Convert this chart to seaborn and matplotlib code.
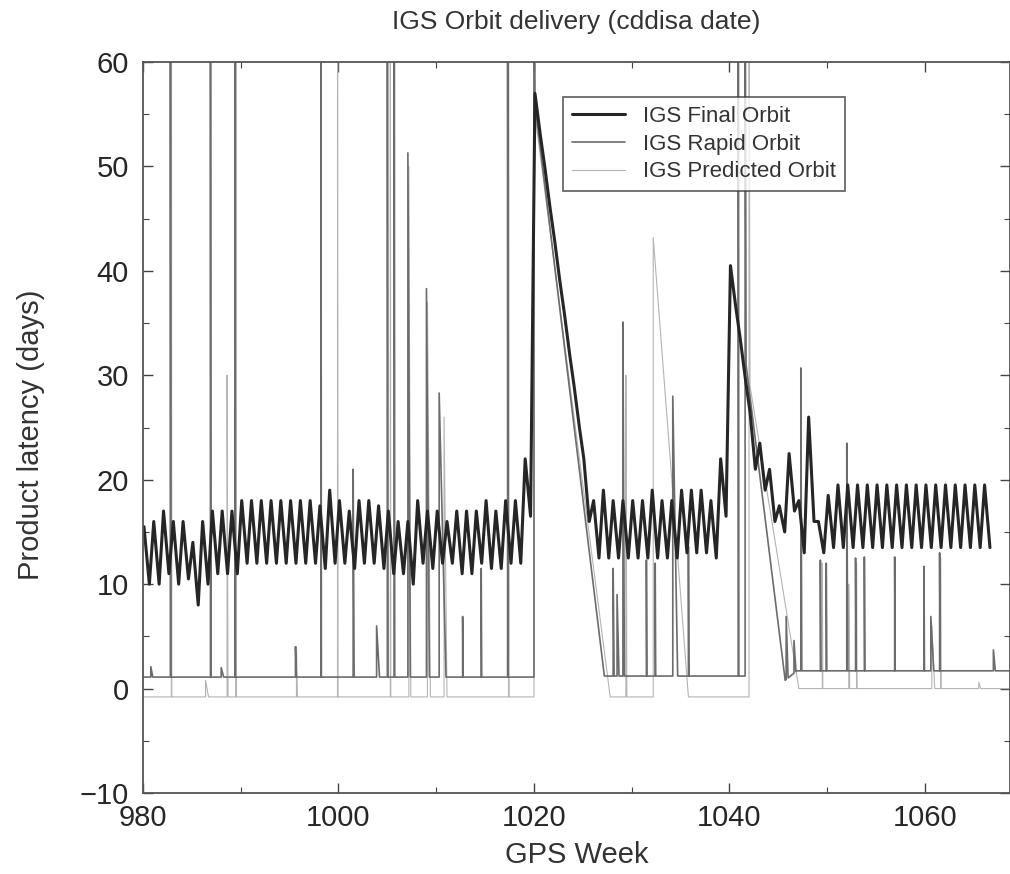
import matplotlib
matplotlib.use("Agg")
import matplotlib.pyplot as plt
from matplotlib.lines import Line2D
from matplotlib.ticker import MultipleLocator
import numpy as np
import pandas as pd
import seaborn as sns

# IGS Final orbit: one peak and one trough per GPS week (latency in days)
final_weeks = list(range(980, 1067))
final_peak = [15.5, 16, 17, 16, 16, 14, 16, 17, 17, 17,
              18, 18, 18, 18, 18, 18, 18, 18, 17.5, 19,
              18, 17, 18, 18, 17.5, 17, 16, 16, 18, 17,
              17, 16, 17, 17, 17, 18, 17, 18, 18, 22,
              57, 50, 43, 36, 29, 22, 18, 19, 18, 18,
              18, 18, 19, 18, 18, 19, 19, 19, 18, 22,
              40.5, 33.5, 26.5, 23.5, 21, 17.5, 22.5, 18, 26, 16,
              18.5, 19.5, 19.5, 19.5, 19.5, 19.5, 19.5, 19.5, 19.5, 19.5,
              19.5, 19.5, 19.5, 19.5, 19.5, 19.5, 19.5]
final_trough = [10, 10, 11, 10, 10.5, 8, 10, 11, 11, 11,
                12, 12, 12, 12, 12, 12, 12, 12, 11.5, 12,
                12, 11.5, 12, 12, 11.5, 11, 11, 10, 12, 11.5,
                12, 12, 11, 11, 12, 11.5, 11.5, 12, 12, 16.5,
                53, 46, 39, 32, 25, 16, 12.5, 12.5, 12.5, 12.5,
                12.5, 12.5, 12.5, 12.5, 12.5, 13, 13, 13, 12.5, 16.5,
                36.5, 29.5, 21, 19, 16, 15, 17, 13, 16, 13,
                13.5, 13.5, 13.5, 13.5, 13.5, 13.5, 13.5, 13.5, 13.5, 13.5,
                13.5, 13.5, 13.5, 13.5, 13.5, 13.5, 13.5]

# IGS Rapid orbit: baseline knots (outages run off the top) and spikes
rapid_knot_week = [980.0, 1020.0, 1020.0, 1020.1, 1027.2, 1041.6, 1041.6, 1041.7, 1045.7, 1046.9, 1069.5]
rapid_knot_days = [1.1, 1.1, 75, 56, 1.2, 1.2, 75, 31, 0.8, 1.7, 1.7]
rapid_spike_week = [980.8, 982.8, 986.9, 988.0, 989.4, 995.6, 998.2, 1001.5, 1003.9, 1005.0,
                    1005.7, 1007.1, 1009.0, 1010.3, 1012.7, 1014.6, 1017.3, 1028.1, 1028.5, 1029.1,
                    1031.5, 1032.4, 1034.2, 1035.8, 1040.9, 1045.8, 1046.6, 1047.3, 1049.3, 1049.9,
                    1052.0, 1052.9, 1053.8, 1056.9, 1059.9, 1060.6, 1061.5, 1067.0]
rapid_spike_days = [2.1, 80, 80, 2.0, 80, 4.0, 80, 21, 6.0, 80,
                    80, 51.3, 38.3, 28.3, 6.9, 11.5, 80, 11.5, 9.0, 35.1,
                    12.3, 12.0, 28.0, 13.6, 80, 6.9, 4.6, 30.7, 12.3, 12.0,
                    23.5, 12.5, 12.6, 12.6, 11.7, 6.9, 13.0, 3.7]
rapid_spike_decay = [0.2, 0.05, 0.05, 0.25, 0.05, 0.1, 0.05, 0.1, 0.3, 0.05,
                     0.05, 0.25, 0.3, 0.7, 0.05, 0.05, 0.05, 0.1, 0.2, 0.15,
                     0.05, 0.05, 0.5, 0.05, 0.05, 0.2, 0.2, 0.1, 0.05, 0.05,
                     0.1, 0.05, 0.05, 0.05, 0.05, 0.3, 0.05, 0.2]

# IGS Predicted orbit
pred_knot_week = [980.0, 1020.0, 1020.0, 1020.1, 1027.8, 1042.0, 1042.0, 1042.1, 1047.1, 1069.5]
pred_knot_days = [-0.8, -0.8, 75, 55, -0.8, -0.8, 75, 29, 0.0, 0.0]
pred_spike_week = [982.9, 986.4, 988.6, 989.5, 995.7, 999.9, 1005.3, 1007.2, 1009.1, 1010.8,
                   1017.4, 1029.4, 1032.2, 1049.5, 1052.2, 1053.0, 1060.7, 1061.6, 1065.5]
pred_spike_days = [80, 0.8, 30, 80, 4.0, 80, 80, 50, 37, 26,
                   80, 30, 43.2, 12, 10, 12, 6, 12.5, 0.6]
pred_spike_decay = [0.05, 0.3, 0.1, 0.05, 0.1, 0.05, 0.05, 0.2, 0.3, 0.3,
                    0.05, 0.1, 3.6, 0.05, 0.1, 0.05, 0.3, 0.05, 0.2]


def sawtooth(weeks, peaks, troughs):
    xs, ys = [], []
    for w, p, t in zip(weeks, peaks, troughs):
        xs += [w + 0.1, w + 0.65]
        ys += [p, t]
    return pd.DataFrame({"week": xs, "days": ys})


def spiky(knot_w, knot_d, spike_w, spike_d, spike_decay):
    pts = list(zip(knot_w, knot_d))
    for w, d, k in zip(spike_w, spike_d, spike_decay):
        pts.append((w, np.interp(w, knot_w, knot_d)))
        pts.append((w, d))
        pts.append((w + k, np.interp(w + k, knot_w, knot_d)))
    pts.sort(key=lambda p: p[0])  # stable: keeps vertical jumps in order
    return pd.DataFrame(pts, columns=["week", "days"])


df_final = sawtooth(final_weeks, final_peak, final_trough)
df_rapid = spiky(rapid_knot_week, rapid_knot_days, rapid_spike_week, rapid_spike_days, rapid_spike_decay)
df_pred = spiky(pred_knot_week, pred_knot_days, pred_spike_week, pred_spike_days, pred_spike_decay)

sns.set_style("ticks")
plt.rcParams["font.family"] = ["Liberation Sans", "DejaVu Sans"]

c_final, c_rapid, c_pred = "#262626", "#6c6c6c", "#b4b4b4"
lw_final, lw_rapid, lw_pred = 2.2, 1.2, 0.8

fig = plt.figure(figsize=(10.1, 8.74), dpi=100)
ax = fig.add_axes([143 / 1010, 81 / 874, 867 / 1010, 731 / 874])

sns.lineplot(data=df_pred, x="week", y="days", sort=False, estimator=None,
             color=c_pred, linewidth=lw_pred, ax=ax)
sns.lineplot(data=df_rapid, x="week", y="days", sort=False, estimator=None,
             color=c_rapid, linewidth=lw_rapid, ax=ax)
sns.lineplot(data=df_final, x="week", y="days", sort=False, estimator=None,
             color=c_final, linewidth=lw_final, ax=ax)

ax.set_xlim(980, 1068.7)
ax.set_ylim(-10, 60)
ax.xaxis.set_major_locator(MultipleLocator(20))
ax.xaxis.set_minor_locator(MultipleLocator(10))
ax.yaxis.set_major_locator(MultipleLocator(10))
ax.yaxis.set_minor_locator(MultipleLocator(5))
ax.tick_params(which="both", direction="in", top=True, right=True, color="#444444")
ax.tick_params(which="major", length=7, width=1.0, labelsize=21, pad=8)
ax.tick_params(which="minor", length=4, width=0.8)
ax.tick_params(axis="y", pad=10)
for sp in ax.spines.values():
    sp.set_color("#555555")
    sp.set_linewidth(1.3)

ax.set_xlabel("GPS Week", fontsize=21, color="#333333")
ax.set_ylabel("Product latency (days)", fontsize=21, color="#333333")
ax.xaxis.set_label_coords(0.5, -0.065)
ax.yaxis.set_label_coords(-0.113, 0.49)
fig.text(576 / 1010, 1 - 22 / 874, "IGS Orbit delivery (cddisa date)",
         ha="center", va="center", fontsize=19, color="#333333")

handles = [Line2D([], [], color=c_final, lw=lw_final),
           Line2D([], [], color=c_rapid, lw=lw_rapid),
           Line2D([], [], color=c_pred, lw=lw_pred)]
leg = ax.legend(handles, ["IGS Final Orbit", "IGS Rapid Orbit", "IGS Predicted Orbit"],
                loc="upper left", bbox_to_anchor=(0.484, 0.952), borderaxespad=0,
                fontsize=16, frameon=True, fancybox=False, edgecolor="#333333",
                handlelength=2.4, handletextpad=0.8, labelspacing=0.3, borderpad=0.4)
leg.get_frame().set_linewidth(1.2)
for t in leg.get_texts():
    t.set_color("#333333")

fig.savefig("out.png", dpi=100)
